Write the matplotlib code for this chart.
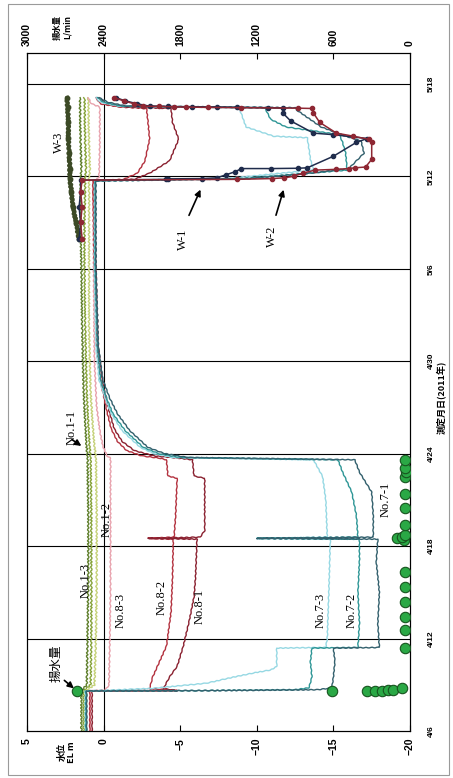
import matplotlib
matplotlib.use("Agg")
import matplotlib.pyplot as plt
from matplotlib.patches import Rectangle

plt.rcParams['font.family'] = ['Liberation Sans', 'Noto Sans CJK JP', 'DejaVu Sans']

# ---------------- data (day = days since 2011-04-06 00:00, level = EL m) ----------------
date_ticks = [0, 6, 12, 18, 24, 30, 36, 42]
date_labels = ["4/6", "4/12", "4/18", "4/24", "4/30", "5/6", "5/12", "5/18"]
level_ticks = [5, 0, -5, -10, -15, -20]
pump_ticks = [3000, 2400, 1800, 1200, 600, 0]

n11_d = [0, 2.6, 3.0, 6, 10, 14, 17.7, 19, 22, 26, 30, 33, 35.8, 36.5, 38, 41.1]
n11_L = [1.3, 1.3, 0.85, 0.8, 0.8, 0.8, 0.85, 0.95, 1.1, 1.2, 1.25, 1.25, 1.2, 1.15, 1.2, 1.25]
n12_L = [1.15, 1.15, 0.6, 0.5, 0.45, 0.45, 0.5, 0.65, 0.85, 0.95, 0.95, 0.95, 0.95, 0.9, 0.95, 1.0]
n13_L = [1.45, 1.45, 1.1, 1.05, 1.0, 1.0, 1.05, 1.15, 1.3, 1.4, 1.45, 1.5, 1.5, 1.45, 1.5, 1.55]

n83_d = [0, 2.6, 2.65, 3.0, 5.4, 9, 12.5, 17.7, 17.9, 18.5, 19.5, 21, 24, 30, 35.7, 35.9, 38, 40.5, 40.7, 41.1]
n83_L = [0.85, 0.85, -0.1, -0.35, -0.4, -0.45, -0.45, -0.45, -0.2, 0.05, 0.25, 0.45, 0.6, 0.65, 0.7, 0.3, 0.25, 0.25, 0.8, 1.0]

n82_d = [0, 2.6, 2.62, 2.75, 3.5, 5.5, 7.7, 10, 12.45, 12.5, 12.58, 14, 16.4, 16.55, 17.6, 17.72,
         17.85, 18.2, 18.8, 19.6, 20.8, 22.5, 25, 30, 35.7, 35.8, 36.2, 37, 38.4, 39.5, 40.4, 40.5, 40.7, 41.1]
n82_L = [0.9, 0.9, -4.8, -3.0, -3.2, -4.1, -4.4, -4.5, -4.55, -2.9, -4.6, -4.7, -4.8, -4.2, -4.1, -3.6,
         -2.5, -1.5, -0.9, -0.5, -0.2, 0.15, 0.45, 0.6, 0.7, -1.3, -2.2, -2.7, -3.0, -2.9, -2.8, -1.0, 0.2, 0.5]

n81_d = [0, 2.6, 2.62, 2.75, 3.5, 4.2, 5.5, 7.2, 8.7, 10, 12.45, 12.5, 12.58, 13, 16.4, 16.55, 17.6, 17.72,
         17.85, 18.2, 18.8, 19.6, 20.8, 22.5, 25, 30, 35.7, 35.8, 36.2, 37, 38.4, 39.5, 40.4, 40.5, 40.7, 41.1]
n81_L = [0.75, 0.75, -4.8, -3.9, -4.3, -4.8, -5.2, -5.6, -5.9, -6.0, -6.1, -2.9, -6.3, -6.6, -6.6, -5.9, -5.8, -4.8,
         -3.3, -2.0, -1.2, -0.7, -0.35, 0.05, 0.35, 0.5, 0.6, -2.0, -3.0, -4.3, -4.9, -4.5, -4.4, -1.5, -0.2, 0.3]

n73_d = [0, 2.6, 2.65, 2.77, 3.1, 3.5, 3.77, 3.96, 4.18, 5.38, 5.42, 6, 9, 12.45, 12.5, 12.58, 15, 16.5, 17.6,
         17.7, 17.75, 18.0, 18.4, 19.5, 20.6, 21.6, 22.8, 25, 30, 35.7, 35.85, 36.4, 37.1, 38.5, 38.6, 39.2, 40.3,
         40.45, 40.55, 40.8, 41.1]
n73_L = [1.2, 1.2, -0.5, -3.2, -6.7, -8.5, -9.8, -10.9, -11.3, -11.3, -14.5, -14.6, -14.7, -14.8, -10.0, -14.6,
         -14.5, -14.3, -13.7, -8.0, -4.5, -3.3, -2.4, -1.2, -0.5, -0.1, 0.3, 0.5, 0.6, 0.6, -8.0, -13.7, -13.5,
         -13.3, -11.1, -9.3, -8.9, -8.5, -1.0, 0.2, 0.5]

n72_d = [0, 2.6, 2.62, 2.68, 2.8, 3.5, 4.5, 5.38, 5.42, 7, 9, 11, 12.45, 12.5, 12.58, 14, 15.5, 16.8, 17.6,
         17.7, 17.75, 18.0, 18.4, 19.5, 20.6, 21.6, 22.8, 25, 30, 35.7, 35.85, 36.4, 37.5, 38.2, 38.7, 39.2,
         39.7, 40.3, 40.45, 40.55, 40.8, 41.1]
n72_L = [1.15, 1.15, -6.0, -12.5, -13.4, -13.6, -13.5, -13.6, -16.6, -16.7, -16.6, -16.7, -16.7, -10.0, -16.6,
         -16.5, -16.2, -15.6, -15.3, -8.5, -5.0, -3.6, -2.6, -1.4, -0.6, -0.2, 0.2, 0.4, 0.55, 0.55, -9.0, -15.9,
         -15.8, -15.6, -15.4, -11.9, -10.9, -10.6, -10.5, -1.2, 0.0, 0.4]

n71_d = [0, 2.6, 2.62, 2.68, 2.8, 3.5, 4.5, 5.38, 5.42, 7, 9, 11, 12.45, 12.5, 12.58, 14, 15.5, 16.8, 17.6,
         17.7, 17.75, 18.0, 18.4, 19.5, 20.6, 21.6, 22.8, 25, 30, 35.7, 35.85, 36.2, 36.5, 37.5, 38.3, 38.6,
         39.2, 40.3, 40.45, 40.55, 40.8, 41.1]
n71_L = [1.1, 1.1, -7.0, -14.0, -14.9, -15.0, -15.1, -15.0, -18.0, -17.9, -18.0, -17.8, -17.9, -10.0, -17.6,
         -17.6, -17.5, -16.7, -16.4, -9.0, -5.5, -4.0, -2.9, -1.7, -0.9, -0.4, 0.05, 0.35, 0.5, 0.5, -9.5,
         -13.5, -16.0, -17.0, -16.8, -15.8, -14.2, -12.6, -12.5, -1.5, -0.3, 0.3]

w1_d = [31.9, 33, 34, 35, 35.75, 35.80, 35.83, 35.85, 35.9, 36.1, 36.3, 36.5, 36.5, 36.52, 36.55, 37.3, 38.2,
        38.45, 38.7, 38.8, 39.6, 40.1, 40.42, 40.45, 40.47, 40.49, 40.51, 40.53, 40.55, 40.7, 40.9, 41.1]
w1_L = [1.6, 1.5, 1.6, 1.5, 1.5, -4.1, -4.2, -6.4, -7.4, -8.0, -8.6, -9.0, -10.9, -12.7, -13.3, -15.0, -16.5,
        -17.2, -15.0, -13.7, -12.2, -11.7, -11.7, -10.7, -8.7, -7.4, -5.8, -4.2, -3.0, -2.2, -1.4, -0.8]

w2_d = [31.9, 33, 34, 35, 35.75, 35.8, 35.85, 35.9, 36.0, 36.2, 36.4, 36.45, 36.5, 36.55, 36.6, 37.1, 38.2,
        38.4, 38.6, 38.8, 39.5, 40.1, 40.4, 40.42, 40.45, 40.47, 40.49, 40.51, 40.53, 40.55, 40.7, 40.9, 41.1]
w2_L = [1.4, 1.5, 1.4, 1.5, 1.4, -8.7, -11.0, -11.8, -12.4, -13.0, -13.8, -15.2, -16.0, -16.4, -17.1, -17.5,
        -17.5, -17.3, -16.3, -15.2, -14.1, -13.7, -13.6, -12.7, -9.0, -6.8, -5.4, -4.6, -3.6, -2.6, -2.0, -1.3, -0.7]

w3_d = [31.9, 33, 34, 35, 35.8, 36.5, 37.5, 38.5, 39.5, 40.5, 41.1]
w3_L = [1.6, 1.8, 2.0, 2.1, 2.2, 2.2, 2.25, 2.3, 2.3, 2.35, 2.4]

pump_d = [2.60, 2.60, 2.60, 2.61, 2.62, 2.64, 2.66, 2.81, 5.41, 6.56, 7.42, 8.40, 9.37, 10.34,
          12.40, 12.55, 12.62, 12.70, 13.40, 14.50, 15.40, 16.50, 16.80, 17.10, 17.60]
pump_Q = [2611, 614, 340, 275, 222, 170, 131, 66, 42, 40, 41, 40, 40, 42,
          45, 100, 60, 40, 42, 40, 40, 38, 30, 40, 42]

# ---------------- figure ----------------
W, H = 453, 778
fig = plt.figure(figsize=(W / 100, H / 100), dpi=100)
fig.patches.append(Rectangle((8 / W, 3 / H), 441 / W, 771 / H, transform=fig.transFigure,
                             fill=False, edgecolor='#9a9a9a', lw=0.8))

ax = fig.add_axes([27 / W, 47 / H, 383 / W, 678 / H])
ax.set_xlim(5, -20)
ax.set_ylim(0, 44)

for t in date_ticks[1:]:
    ax.axhline(t, color='black', lw=0.8, zorder=1)
ax.axvline(0, color='black', lw=0.8, zorder=1)

series = [
    (n11_d, n11_L, '#86a33a', (0.8, 4.0, 1.5)), (n11_d, n12_L, '#c6d27a', (0.8, 4.0, 1.5)),
    (n11_d, n13_L, '#5f7f2c', (0.8, 4.0, 1.5)),
    (n83_d, n83_L, '#e8a2ad', (0.5, 5.0, 1.5)),
    (n82_d, n82_L, '#b3323f', (0.35, 6.0, 1.5)), (n81_d, n81_L, '#8a2130', (0.35, 6.0, 1.5)),
    (n73_d, n73_L, '#96d8e3', (0.35, 6.0, 1.5)), (n72_d, n72_L, '#2e9696', (0.35, 6.0, 1.5)),
    (n71_d, n71_L, '#33606d', (0.35, 6.0, 1.5)),
]
for d, L, c, sk in series:
    ln, = ax.plot(L, d, color=c, lw=1.0, zorder=3)
    ln.set_sketch_params(*sk)

ln, = ax.plot(w3_L, w3_d, color='#3c4a26', lw=2.6, marker='o', ms=3.2, zorder=4)
ln.set_sketch_params(1.0, 4.0, 1.5)
ax.plot(w1_L, w1_d, color='#1f2c4c', lw=1.1, marker='o', ms=3.0, zorder=5)
ax.plot(w2_L, w2_d, color='#8e2733', lw=1.1, marker='o', ms=3.0, zorder=5)

ax2 = ax.twiny()
ax2.set_xlim(3000, 0)
ax2.plot(pump_Q, pump_d, linestyle='none', marker='o', ms=7.5, mfc='#2aa845', mec='#17541f',
         mew=0.8, zorder=6)
ax2.set_ylim(0, 44)

tick_font = dict(fontsize=7.5, fontweight='bold', family=['Liberation Sans', 'DejaVu Sans'])
ax.set_xticks(level_ticks)
ax.set_xticklabels([str(v).replace('-', '\u2212') for v in level_ticks], rotation=90, **tick_font)
ax.tick_params(axis='x', direction='in', length=4, width=0.8, pad=5)
ax2.set_xticks(pump_ticks)
ax2.set_xticklabels([str(v) for v in pump_ticks], rotation=90, **tick_font)
ax2.tick_params(axis='x', direction='in', length=4, width=0.8, pad=5)

ax.set_yticks(date_ticks)
ax.set_yticklabels(date_labels, rotation=90, fontsize=6, fontweight='bold',
                   family=['Liberation Sans', 'DejaVu Sans'], va='center')
ax.yaxis.tick_right()
ax.tick_params(axis='y', length=0, pad=13)
for a in (ax, ax2):
    for s in a.spines.values():
        s.set_linewidth(0.8)

jp = dict(family=['Noto Sans CJK JP', 'DejaVu Sans'], fontweight='bold', rotation=90)
fig.text(441 / W, 1 - 397 / H, '測定月日(2011年)', fontsize=6.5, ha='center', va='center', **jp)
fig.text(67 / W, 1 - 752 / H, '水位\nEL m', fontsize=6.5, ha='center', va='center',
         linespacing=1.1, **jp)
fig.text(62 / W, 1 - 27 / H, '揚水量\nL/min', fontsize=6, ha='center', va='center',
         linespacing=1.1, **jp)

# ---------------- labels ----------------
serif = dict(family=['Liberation Serif', 'DejaVu Serif'], fontsize=9, rotation=90,
             ha='center', va='center', zorder=8)
labels = [("No.1-1", 2.1, 19.7), ("No.1-2", -0.2, 13.7), ("No.1-3", 1.2, 9.8),
          ("No.8-3", -1.1, 7.8), ("No.8-2", -3.8, 8.7), ("No.8-1", -6.3, 8.1),
          ("No.7-3", -14.2, 7.8), ("No.7-2", -16.2, 7.8), ("No.7-1", -18.4, 15.0),
          ("W-3", 2.9, 38.2), ("W-1", -5.2, 31.9), ("W-2", -11.0, 32.1)]
for txt, x, y in labels:
    ax.text(x, y, txt, **serif)
ax.text(3.1, 4.4, "揚水量", fontsize=9, ha='center', va='center', zorder=8,
        family=['Noto Sans CJK JP', 'DejaVu Sans'], rotation=90)

arr = dict(arrowstyle='-|>', color='black', lw=1.2, mutation_scale=9)
ax.annotate('', xy=(1.3, 18.4), xytext=(2.2, 19.0), arrowprops=arr, zorder=8)
ax.annotate('', xy=(1.8, 2.65), xytext=(2.7, 3.4), arrowprops=arr, zorder=8)
ax.annotate('', xy=(-6.4, 35.3), xytext=(-5.5, 33.3), arrowprops=arr, zorder=8)
ax.annotate('', xy=(-11.8, 35.3), xytext=(-11.2, 33.3), arrowprops=arr, zorder=8)

fig.savefig('out.png', dpi=100)
